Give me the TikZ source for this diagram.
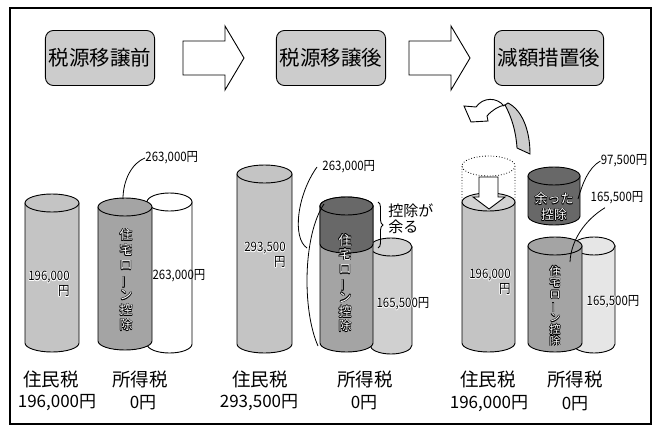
\documentclass[tikz,border=0pt]{standalone}
\usepackage{fontspec}
\setmainfont{Noto Sans CJK JP}
\newfontfamily\numfont[FakeStretch=0.88]{Noto Sans CJK JP}
\usetikzlibrary{decorations.pathreplacing}
\definecolor{boxgray}{HTML}{CCCCCC}
\definecolor{resgray}{HTML}{C4C4C4}
\definecolor{restop}{HTML}{D2D2D2}
\definecolor{loangray}{HTML}{A4A4A4}
\definecolor{restgray}{HTML}{686868}
\definecolor{incgray}{HTML}{D0D0D0}
\definecolor{incpale}{HTML}{E6E6E6}
% cylinder: x1, x2, top, bottom, body colour, top colour
\newcommand\cyl[6]{%
  \pgfmathsetmacro\cylrx{(#2-#1)/2}%
  \filldraw[fill=#5] (#1,#3) -- (#1,#4) arc[start angle=180,end angle=0,x radius=\cylrx,y radius=9] -- (#2,#3) -- cycle;
  \filldraw[fill=#6] ({(#1+#2)/2},#3) ellipse[x radius=\cylrx,y radius=9];}
% text with an edge: [options]{position}{text colour}{edge colour}{text}
\newcommand\outl[5][]{%
  \foreach \hx/\hy in {.6/0,-.6/0,0/.6,0/-.6,.45/.45,-.45/.45,.45/-.45,-.45/-.45}
    {\node[#1,text=#4,xshift=\hx pt,yshift=\hy pt] at (#2) {#5};}
  \node[#1,text=#3] at (#2) {#5};}
\newcommand\loanv{住\\宅\\ロ\\\rotatebox[origin=c]{90}{ー}\\ン\\控\\除}
\begin{document}
\begin{tikzpicture}[x=1pt,y=-1pt,line width=0.9pt,
  tbox/.style={draw,rounded corners=8pt,fill=boxgray,minimum width=108pt,minimum height=55pt,font=\fontsize{20.5}{21}\selectfont},
  num/.style={font=\numfont\fontsize{13}{15}\selectfont,inner sep=0pt},
  vtext/.style={align=center,inner sep=0pt,font=\fontsize{13}{15}\selectfont},
  tax/.style={font=\fontsize{18.5}{19}\selectfont,inner sep=0pt},
  amt/.style={font=\fontsize{17}{17}\selectfont,inner sep=0pt},
  leader/.style={line width=0.8pt}]
\useasboundingbox (0,0) rectangle (660,433);
\draw[line width=1.2pt] (10,8) rectangle (651,424);

% heading
\node[tbox] (before) at (100,58) {税源移譲前};
\node[tbox] (after) at (331,58) {税源移譲後};
\node[tbox] (relief) at (549,58) {減額措置後};
\foreach \x in {183,409}
  \draw[fill=white] (\x,41) -- ++(42,0) -- ++(0,-15) -- ++(19,32) -- ++(-19,32) -- ++(0,-15) -- ++(-42,0) -- cycle;

% before transfer
\cyl{25}{79}{203}{343}{resgray}{resgray}
\cyl{147}{192}{202}{344}{white}{white}
\cyl{98}{152}{207}{341}{loangray}{loangray}
\outl[num,align=right]{49,284}{black}{white}{196,000\\円}
\outl[vtext]{126,280}{white}{black}{\loanv}
\node[num] (inc1) at (179,276) {263,000円};
\node[num,anchor=west] (loan1) at (145,158) {263,000円};
\coordinate (loan1top) at (123,199);
\draw[leader] (loan1.west) .. controls (132,163) and (123,180) .. (loan1top);
\node[tax] (res1) at (51,379) {住民税};
\node[tax] (tax1) at (140,379) {所得税};
\node[amt] (resamt1) at (57,403) {196,000円};
\node[amt] (taxamt1) at (143,403) {0円};

% after transfer
\cyl{237}{292}{174}{344}{resgray}{resgray}
\outl[num,align=right]{265,255}{black}{white}{293,500\\円}
\cyl{370}{412}{247}{345}{incgray}{incgray}
\cyl{320}{373}{206}{343}{loangray}{loangray}
\cyl{320}{373}{206}{244}{restgray}{restgray}
\outl[vtext,font=\fontsize{13}{14.3}\selectfont]{345,283}{white}{black}{\loanv}
\outl[num]{403,304}{black}{white}{165,500円}
\draw[decorate,decoration={brace,amplitude=5pt}] (378,202) -- (378,248);
\node[align=left,anchor=west,inner sep=0pt,font=\fontsize{15}{16}\selectfont] (surplus) at (388,219) {控除が\\余る};
\node[num,anchor=west] (loan2) at (322,167) {263,000円};
\coordinate (join2) at (307,248);
\coordinate (loan2top) at (324,204);
\coordinate (loan2bot) at (318,346);
\draw[leader] ([xshift=-5pt]loan2.west) .. controls (297,195) and (292,238) .. (join2);
\draw[leader] (loan2top) .. controls (303,235) and (302,310) .. (loan2bot);
\node[tax] (res2) at (260,379) {住民税};
\node[tax] (tax2) at (365,379) {所得税};
\node[amt] (resamt2) at (259,403) {293,500円};
\node[amt] (taxamt2) at (364,403) {0円};

% after relief
\draw[fill=white] (504,106) .. controls (497,97) and (483,97) .. (476,107) -- (464,106) -- (471,122) -- (488,121) -- (487,116) .. controls (492,110) and (499,106) .. (505,105);
\draw[fill=boxgray] (517,148) -- (530,154) .. controls (530,130) and (522,110) .. (508,103) -- (505,105) .. controls (512,118) and (516,132) .. cycle;
\draw[dotted,line width=0.8pt] (462,166) -- (462,202) (515,166) -- (515,202) (488.5,166) ellipse[x radius=26.5,y radius=10];
\cyl{462}{515}{202}{343}{resgray}{restop}
\draw[fill=white] (479,177) -- (498,177) -- (498,197) -- (505,197) -- (489,209) -- (473,197) -- (479,197) -- cycle;
\outl[num,align=right]{490,282}{black}{white}{196,000\\円}
\cyl{528}{580}{176}{216}{restgray}{restgray}
\outl[align=center,inner sep=0pt,font=\fontsize{13}{16}\selectfont]{554,207}{white}{black}{余った\\控除}
\cyl{573}{615}{246}{344}{incpale}{incpale}
\cyl{528}{582}{246}{343}{loangray}{loangray}
\outl[vtext,font=\fontsize{11}{11.7}\selectfont]{555,306}{white}{black}{\loanv}
\outl[num]{613,302}{black}{white}{165,500円}
\node[num] (rest3) at (624,161) {97,500円};
\coordinate (rest3in) at (578,199);
\draw[leader] (rest3.west) .. controls (588,168) and (582,185) .. (rest3in);
\node[num] (loan3) at (617,198) {165,500円};
\coordinate (loan3in) at (570,262);
\draw[leader] ([xshift=-12pt,yshift=-3pt]loan3.south) .. controls (585,220) and (571,240) .. (loan3in);
\node[tax] (res3) at (488,379) {住民税};
\node[tax] (tax3) at (575,379) {所得税};
\node[amt] (resamt3) at (489,404) {196,000円};
\node[amt] (taxamt3) at (575,404) {0円};
\end{tikzpicture}
\end{document}
